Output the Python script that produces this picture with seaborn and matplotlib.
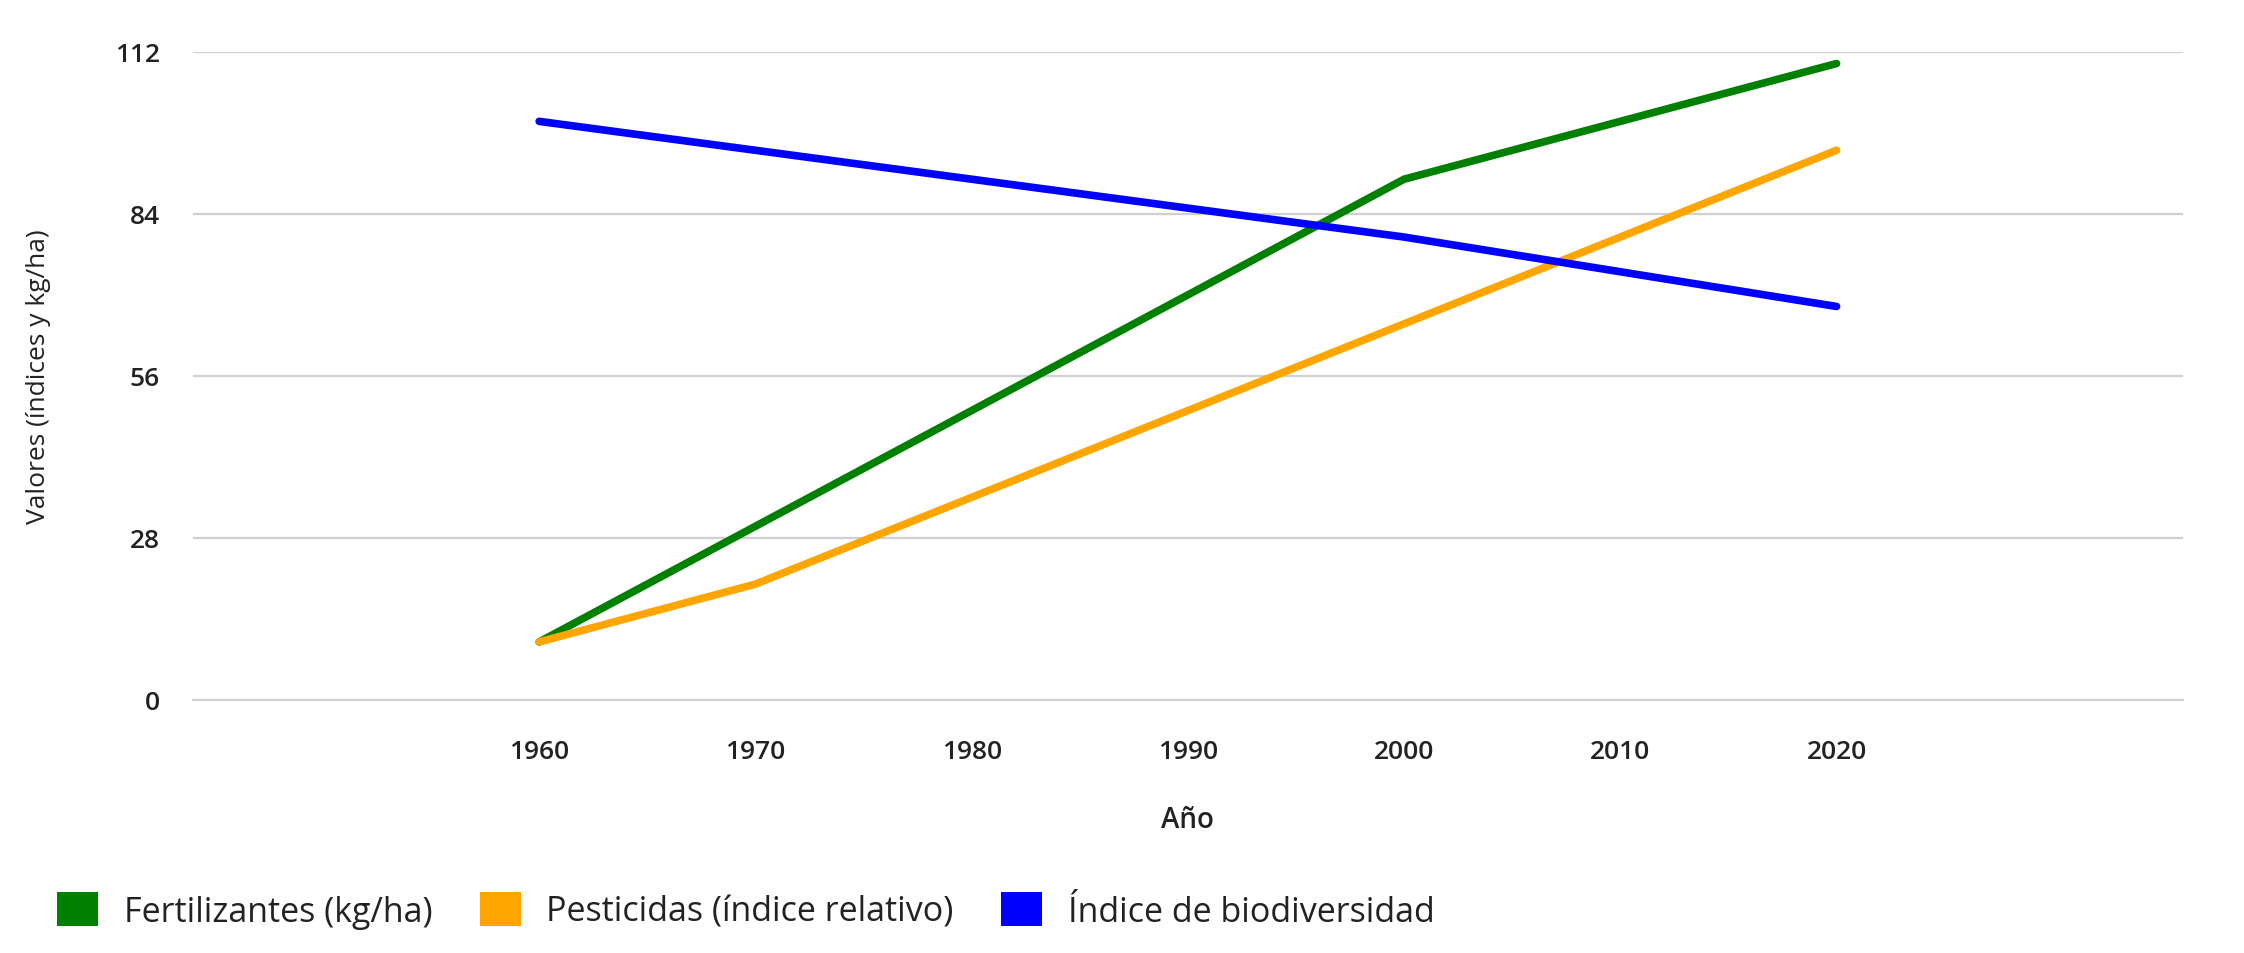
import numpy as np
import pandas as pd
import matplotlib
matplotlib.use('Agg')
import matplotlib.pyplot as plt
from matplotlib.patches import Patch
import seaborn as sns

# Data
years = [1960, 1970, 1980, 1990, 2000, 2010, 2020]
fertilizantes = [10, 30, 50, 70, 90, 100, 110]
pesticidas = [10, 20, 35, 50, 65, 80, 95]
biodiversidad = [100, 95, 90, 85, 80, 74, 68]

series_names = ['Fertilizantes (kg/ha)', 'Pesticidas (índice relativo)', 'Índice de biodiversidad']
series_colors = ['green', 'orange', 'blue']
y_ticks = [0, 28, 56, 84, 112]

df = pd.DataFrame({
    'Año': years * 3,
    'Valor': fertilizantes + pesticidas + biodiversidad,
    'Serie': [series_names[0]] * 7 + [series_names[1]] * 7 + [series_names[2]] * 7,
})
palette = dict(zip(series_names, series_colors))

sns.set_style('white')
plt.rcParams['font.family'] = ['Open Sans', 'DejaVu Sans']
text_color = '#222222'

fig = plt.figure(figsize=(22.44, 9.54), dpi=100)
ax = fig.add_axes([0.0861, 0.2654, 0.9726 - 0.0861, 0.9445 - 0.2654])

sns.lineplot(data=df, x='Año', y='Valor', hue='Serie', palette=palette,
             linewidth=5.5, ax=ax, legend=False, solid_capstyle='round')

ax.set_xlim(1944, 2036)
ax.set_ylim(0, 112)
ax.set_xticks(years)
ax.set_yticks(y_ticks)
ax.yaxis.grid(True, color='#d0d0d0', linewidth=1.6)
ax.set_axisbelow(True)
for s in ['top', 'right', 'left']:
    ax.spines[s].set_visible(False)
ax.spines['bottom'].set_color('#d0d0d0')
ax.spines['bottom'].set_linewidth(1.6)
ax.tick_params(axis='x', length=10, width=1.6, color='#d0d0d0', pad=18,
               labelsize=19, labelcolor=text_color)
ax.tick_params(axis='y', length=0, pad=24, labelsize=19, labelcolor=text_color)
for lab in ax.get_xticklabels() + ax.get_yticklabels():
    lab.set_fontweight('semibold')

ax.set_xlabel('Año', fontsize=20, fontweight='semibold', color=text_color, labelpad=30)
ax.set_ylabel('Valores (índices y kg/ha)', fontsize=19, color=text_color, labelpad=46)

handles = [Patch(facecolor=c, edgecolor='none') for c in series_colors]
fig.legend(handles, series_names, loc='center left', bbox_to_anchor=(0.0255, 0.045),
           ncol=3, frameon=False, fontsize=24.5, handlelength=1.2, handleheight=1.2,
           handletextpad=0.75, columnspacing=1.4, labelcolor=text_color,
           borderaxespad=0, borderpad=0)

fig.savefig('out.png', dpi=100)
